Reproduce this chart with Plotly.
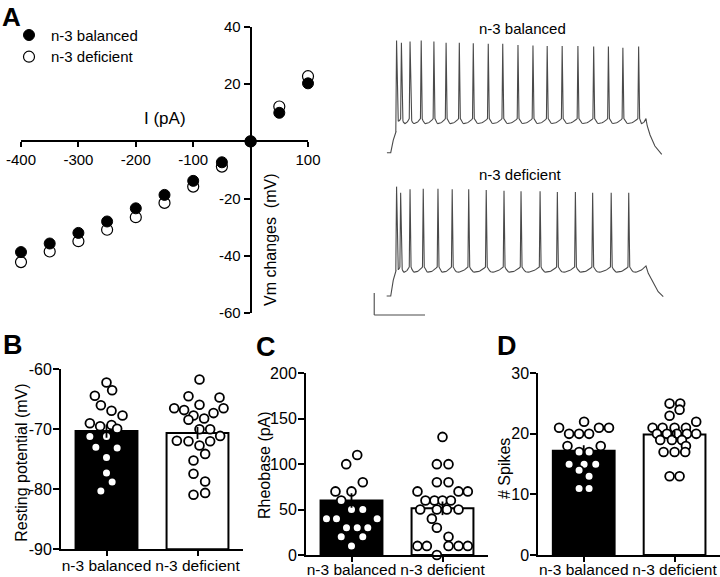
import numpy as np
import plotly.graph_objects as go

W, H = 720, 577
def px(x): return x / W
def py(y): return 1 - y / H

FONT = "Liberation Sans, Arial, Helvetica, sans-serif"

# ---------------- Panel A: I-V relation ----------------
current_pA = [-400, -350, -300, -250, -200, -150, -100, -50, 0, 50, 100]
vm_balanced = [-38.7, -35.7, -32.0, -28.0, -23.4, -18.7, -13.8, -7.3, 0, 10.0, 20.3]
vm_deficient = [-42.2, -38.5, -34.9, -30.9, -26.5, -21.5, -15.8, -8.8, 0, 12.2, 22.8]
iv_xticks = [-400, -300, -200, -100, 100]
iv_xticktext = ["-400", "-300", "-200", "-100", "100"]
iv_yticks = [-60, -40, -20, 20, 40]
iv_yticktext = ["-60", "-40", "-20", "20", "40"]

# ---------------- Panel A: example traces ----------------
bal_spike_ms = [18, 37, 71, 115, 165, 213, 265, 320, 379, 436, 496, 555, 611, 670, 732, 794, 852, 909, 971]
bal_spike_mv = [32, 30, 31, 32, 31, 30, 30, 29.5, 29, 29, 28, 27.5, 27, 27, 27, 26.5, 26.5, 25.5, 26.5]
def_spike_ms = [18, 34, 71, 123, 181, 237, 302, 371, 441, 508, 583, 651, 722, 790, 863, 932]
def_spike_mv = [29.4, 23.9, 27, 27.5, 27.5, 27, 27, 26.4, 25.7, 25.2, 25.2, 24.5, 24.5, 23.9, 23.9, 23.9]
bal_onset_ms = [-20, -5, 5, 15.7]
bal_onset_mv = [-70, -70, -58.5, -50.9]
def_onset_ms = [-21, -5, 5, 15.7]
def_onset_mv = [-70, -70, -55.5, -47]
bal_offset_ms = [1000, 1002, 1005, 1016, 1035, 1062]
bal_offset_mv = [-39, -42, -45.7, -53.9, -63.9, -71.5]
def_offset_ms = [1000, 1009, 1029, 1048, 1068]
def_offset_mv = [-42.7, -49.4, -58.5, -66.1, -70.6]
bal_threshold_mv, bal_trough_mv = -39.0, -43.5
def_threshold_mv, def_trough_mv = -43.6, -48.3
scale_ms, scale_mv = 200, 20

# ---------------- Panels B-D ----------------
groups = ["n-3 balanced", "n-3 deficient"]

rmp_bal = [-62.2, -63.5, -64.4, -66.0, -66.9, -67.7, -69.0, -69.5, -69.3, -69.9, -71.2, -71.2, -73.0, -73.1, -74.7, -77.3, -78.8, -80.3]
rmp_bal_jit = [0, 0.062, -0.128, -0.062, 0.055, 0.176, -0.183, -0.07, 0.055, 0.117, -0.183, 0, -0.117, 0.117, 0, 0, 0.062, -0.062]
rmp_def = [-61.7, -64.5, -64.7, -65.9, -66.5, -66.8, -66.5, -67.3, -67.7, -68.2, -68.4, -70.0, -70.0, -71.1, -71.9, -72.0, -72.0, -72.7, -74.1, -75.2, -77.4, -78.7, -80.6, -80.9]
rmp_def_jit = [0.022, -0.099, 0.242, 0.022, -0.256, -0.147, 0.286, 0.176, -0.044, 0.073, -0.099, 0.022, 0.139, 0.249, -0.227, -0.099, 0.139, 0.022, 0.084, -0.044, -0.044, 0.084, 0.084, -0.044]
rmp_mean = [-70.3, -70.6]
rmp_sem = [1.1, 1.0]
rmp_ticks = [-90, -80, -70, -60]
rmp_ticktext = ["-90", "-80", "-70", "-60"]

rheo_bal = [110, 100, 80, 70, 70, 60, 50, 50, 40, 40, 40, 30, 30, 30, 20, 20, 10]
rheo_bal_jit = [0.063, -0.058, 0.124, -0.176, 0, -0.113, 0, 0.124, -0.275, -0.165, 0.282, -0.055, 0.063, 0.179, -0.113, 0.124, 0]
rheo_def = [130, 100, 100, 80, 80, 70, 70, 70, 60, 60, 60, 60, 50, 50, 50, 50, 40, 30, 20, 10, 10, 10, 10, 10, 0]
rheo_def_jit = [0, -0.062, 0.066, -0.062, 0.066, -0.275, 0.176, 0.278, -0.187, -0.088, 0, 0.092, -0.245, -0.062, 0.048, 0.176, -0.117, -0.062, 0.066, -0.275, -0.172, 0.066, 0.176, 0.278, -0.062]
rheo_mean = [60, 51.4]
rheo_sem = [8, 7.5]
rheo_ticks = [0, 50, 100, 150, 200]

spk_bal = [22, 21, 21, 21, 20, 20, 20, 18, 18, 17, 17, 15, 15, 15, 14, 13, 11, 11]
spk_bal_jit = [0.004, -0.271, 0.168, 0.278, -0.161, -0.051, 0.059, -0.179, 0.187, -0.051, 0.059, -0.161, 0.004, 0.132, -0.051, 0.059, -0.051, 0.059]
spk_def = [25, 25, 24, 23, 21, 21, 21, 21, 22, 20, 20, 20, 20, 20, 19, 19, 19, 18, 17, 17, 17, 13, 13]
spk_def_jit = [-0.055, 0.062, 0.055, -0.055, -0.242, -0.132, 0, 0.125, 0.238, -0.194, -0.084, 0.026, 0.136, 0.238, -0.158, -0.029, 0.081, 0.125, -0.121, 0, 0.117, -0.055, 0.055]
spk_mean = [17.2, 19.9]
spk_sem = [0.9, 0.6]
spk_ticks = [0, 10, 20, 30]


def build_wave(onset_t, onset_v, spikes, peaks, thr, trough, off_t, off_v):
    t = list(onset_t)
    v = list(onset_v)
    n = len(spikes)
    for i, (ts, pk) in enumerate(zip(spikes, peaks)):
        pre = v[-1] if i == 0 else thr
        t += [ts - 3, ts, ts + 4]
        v += [pre, pk, thr]
        last = i + 1 == n
        t_next = off_t[0] if last else spikes[i + 1] - 3
        v_end = off_v[0] if last else thr
        s0 = ts + 4
        span = t_next - s0
        depth = trough if span > 14 else (thr + trough) / 2
        for u in np.linspace(0, 1, 15)[1:]:
            if u <= 0.3:
                val = depth + (thr - depth) * ((0.3 - u) / 0.3) ** 2
            else:
                val = depth + (v_end - depth) * ((u - 0.3) / 0.7) ** 2
            t.append(s0 + u * span)
            v.append(val)
    t += list(off_t[1:])
    v += list(off_v[1:])
    return t, v


fig = go.Figure()

# ---- I-V scatter
fig.add_trace(go.Scatter(x=current_pA, y=vm_deficient, mode="markers", xaxis="x", yaxis="y",
                         marker=dict(size=11, color="white", line=dict(color="black", width=1.2)),
                         cliponaxis=False, name="n-3 deficient"))
fig.add_trace(go.Scatter(x=current_pA, y=vm_balanced, mode="markers", xaxis="x", yaxis="y",
                         marker=dict(size=11, color="black", line=dict(color="black", width=1)),
                         cliponaxis=False, name="n-3 balanced"))

# ---- traces
tb, vb = build_wave(bal_onset_ms, bal_onset_mv, bal_spike_ms, bal_spike_mv,
                    bal_threshold_mv, bal_trough_mv, bal_offset_ms, bal_offset_mv)
td, vd = build_wave(def_onset_ms, def_onset_mv, def_spike_ms, def_spike_mv,
                    def_threshold_mv, def_trough_mv, def_offset_ms, def_offset_mv)
TRACE_COLOR = "#4a4a4a"
fig.add_trace(go.Scatter(x=tb, y=vb, mode="lines", xaxis="x5", yaxis="y5",
                         line=dict(color=TRACE_COLOR, width=1.1), cliponaxis=False))
fig.add_trace(go.Scatter(x=td, y=vd, mode="lines", xaxis="x6", yaxis="y6",
                         line=dict(color=TRACE_COLOR, width=1.1), cliponaxis=False))

# ---- bar panels
def bar_panel(xa, ya, base, means, sems, bal, bal_j, dfc, dfc_j):
    fills = ["black", "white"]
    for i in range(2):
        fig.add_trace(go.Bar(x=[i], y=[means[i] - base], base=[base], width=0.68,
                             xaxis=xa, yaxis=ya,
                             marker=dict(color=fills[i], line=dict(color="black", width=2))))
    for i, (vals, jit) in enumerate([(bal, bal_j), (dfc, dfc_j)]):
        fig.add_trace(go.Scatter(x=[i + j for j in jit], y=vals, mode="markers", xaxis=xa, yaxis=ya,
                                 marker=dict(size=8.8, color="white", line=dict(color="black", width=1.8)),
                                 cliponaxis=False))
    fig.add_trace(go.Scatter(x=[0, 1], y=means, mode="markers", xaxis=xa, yaxis=ya,
                             marker=dict(size=1, color="rgba(0,0,0,0)"),
                             error_y=dict(type="data", array=sems, color="black", thickness=1.8, width=0),
                             cliponaxis=False))

bar_panel("x2", "y2", -90, rmp_mean, rmp_sem, rmp_bal, rmp_bal_jit, rmp_def, rmp_def_jit)
bar_panel("x3", "y3", 0, rheo_mean, rheo_sem, rheo_bal, rheo_bal_jit, rheo_def, rheo_def_jit)
bar_panel("x4", "y4", 0, spk_mean, spk_sem, spk_bal, spk_bal_jit, spk_def, spk_def_jit)

# ---- axes
axis_common = dict(showline=True, linecolor="black", linewidth=2, ticks="outside",
                   ticklen=6, tickwidth=2, tickcolor="black", showgrid=False, zeroline=False,
                   automargin=False, tickangle=0,
                   tickfont=dict(family=FONT, size=16, color="black"))
bar_y = dict(axis_common, ticklabelstandoff=-2)

xd = [px(21), px(308)]
yd = [py(313), py(27)]
iv_xpos = yd[0] + (0 - (-60)) / 100 * (yd[1] - yd[0])
iv_ypos = xd[0] + (0 - (-400)) / 500 * (xd[1] - xd[0])

layout_axes = {}
layout_axes["xaxis"] = dict(axis_common, domain=xd, range=[-400, 100], anchor="free", position=iv_xpos,
                            tickvals=iv_xticks, ticktext=iv_xticktext, ticklen=5,
                            tickfont=dict(family=FONT, size=15, color="black"))
layout_axes["yaxis"] = dict(axis_common, domain=yd, range=[-60, 40], anchor="free", position=iv_ypos,
                            tickvals=iv_yticks, ticktext=iv_yticktext,
                            tickfont=dict(family=FONT, size=15, color="black"))

bar_x = dict(axis_common, range=[-0.5, 1.5], tickvals=[0, 1], ticktext=groups, ticklen=5,
             tickfont=dict(family=FONT, size=15.5, color="black"))
layout_axes["xaxis2"] = dict(bar_x, domain=[px(61), px(243)], anchor="y2", ticklabelstandoff=-4)
layout_axes["yaxis2"] = dict(bar_y, domain=[py(549.3), py(369.3)], range=[-90, -60],
                             tickvals=rmp_ticks, ticktext=rmp_ticktext, anchor="x2")
layout_axes["xaxis3"] = dict(bar_x, domain=[px(306), px(488)], anchor="y3", ticklabelstandoff=-6)
layout_axes["yaxis3"] = dict(bar_y, domain=[py(555), py(373.3)], range=[0, 200],
                             tickvals=rheo_ticks, anchor="x3")
layout_axes["xaxis4"] = dict(bar_x, domain=[px(538.3), 1.0], anchor="y4", ticklabelstandoff=-6)
layout_axes["yaxis4"] = dict(bar_y, domain=[py(555), py(373.3)], range=[0, 30],
                             tickvals=spk_ticks, anchor="x4")

trace_xd = [px(368), px(672)]
trace_xr = [-94.5, 1102.4]
layout_axes["xaxis5"] = dict(domain=trace_xd, range=trace_xr, visible=False, anchor="y5", automargin=False)
layout_axes["yaxis5"] = dict(domain=[py(162), py(25)], range=[-78.45, 46.1], visible=False, anchor="x5", automargin=False)
layout_axes["xaxis6"] = dict(domain=trace_xd, range=trace_xr, visible=False, anchor="y6", automargin=False)
layout_axes["yaxis6"] = dict(domain=[py(320), py(172)], range=[-91.8, 42.7], visible=False, anchor="x6", automargin=False)

# ---- annotations
def ann(text, x, y, size, bold=False, angle=0, xanchor="center", yanchor="middle"):
    return dict(text=("<b>%s</b>" % text) if bold else text, x=px(x), y=py(y), xref="paper", yref="paper",
                showarrow=False, xanchor=xanchor, yanchor=yanchor, textangle=angle,
                font=dict(family=FONT, size=size, color="black"))

annotations = [
    ann("A", 11.7, 0, 26, bold=True, yanchor="top"),
    ann("B", 12.5, 345, 27, bold=True),
    ann("C", 266, 346.7, 27, bold=True),
    ann("D", 506.7, 346, 27, bold=True),
    ann("n-3 balanced", 49, 35, 15, xanchor="left"),
    ann("n-3 deficient", 49, 56.7, 15, xanchor="left"),
    ann("I (pA)", 165, 118, 17),
    ann("Vm changes\u00a0 (mV)", 270, 240, 16, angle=-90),
    ann("n-3 balanced", 522.7, 28.3, 15),
    ann("n-3 deficient", 520, 174, 15),
    ann("Resting potential (mV)", 20.7, 463, 16, angle=-90),
    ann("Rheobase (pA)", 264, 465, 16, angle=-90),
    ann("# Spikes", 504, 468, 16, angle=-90),
]

# ---- legend symbols & scale bar
r = 5.5
shapes = [
    dict(type="circle", xref="paper", yref="paper", x0=px(29 - r), x1=px(29 + r), y0=py(35 + r), y1=py(35 - r),
         fillcolor="black", line=dict(color="black", width=1)),
    dict(type="circle", xref="paper", yref="paper", x0=px(29 - r), x1=px(29 + r), y0=py(56.7 + r), y1=py(56.7 - r),
         fillcolor="white", line=dict(color="black", width=1.2)),
]
sb_t0, sb_v0 = -70, -87.3
shapes += [
    dict(type="line", xref="x6", yref="y6", x0=sb_t0, x1=sb_t0, y0=sb_v0, y1=sb_v0 + scale_mv,
         line=dict(color=TRACE_COLOR, width=1.1)),
    dict(type="line", xref="x6", yref="y6", x0=sb_t0, x1=sb_t0 + scale_ms, y0=sb_v0, y1=sb_v0,
         line=dict(color=TRACE_COLOR, width=1.1)),
]

fig.update_layout(
    template="none",
    width=W, height=H, margin=dict(l=0, r=0, t=0, b=0, pad=0, autoexpand=False),
    paper_bgcolor="white", plot_bgcolor="rgba(0,0,0,0)",
    showlegend=False, barmode="overlay",
    font=dict(family=FONT, color="black"),
    annotations=annotations, shapes=shapes,
    **layout_axes,
)

fig.write_html("out.html", config={"displayModeBar": False, "staticPlot": True},
               post_script="document.body.style.margin='0';document.body.style.overflow='hidden';")
